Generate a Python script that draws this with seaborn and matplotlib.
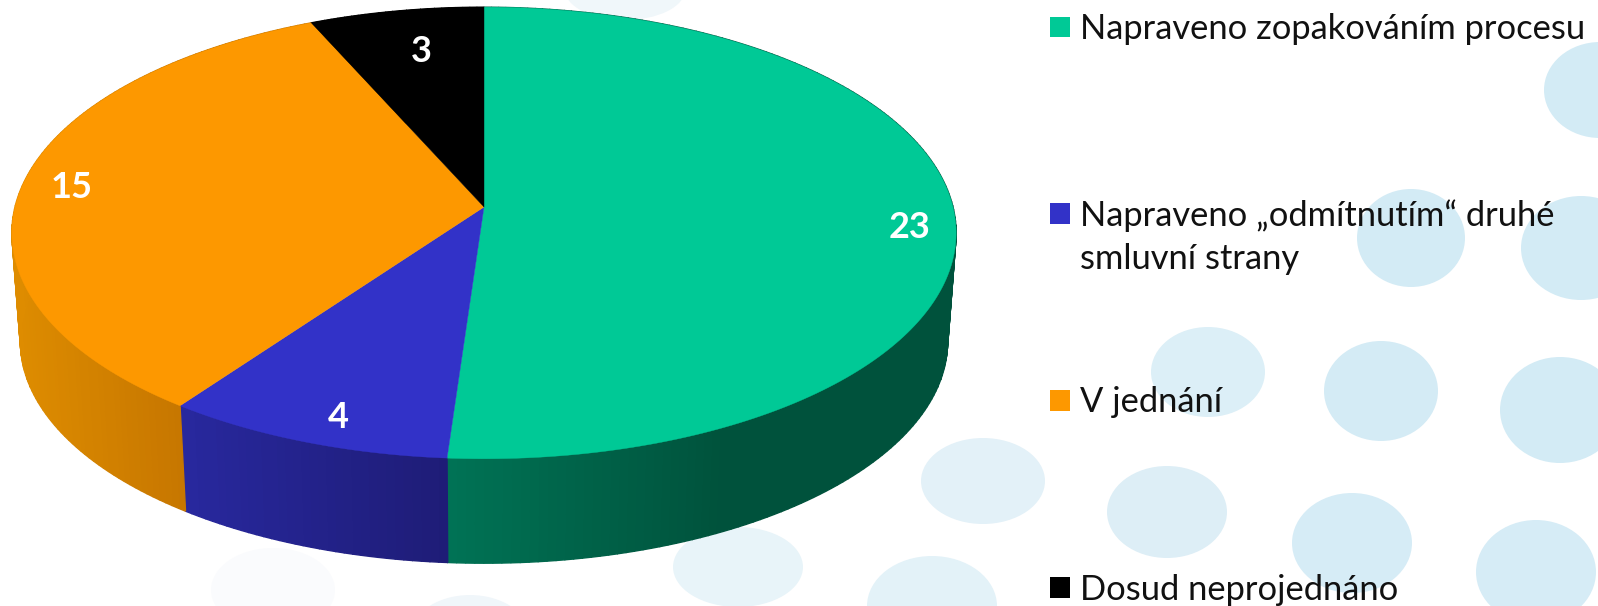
import numpy as np
import matplotlib
matplotlib.use('Agg')
import matplotlib.pyplot as plt
from matplotlib.patches import Ellipse, Rectangle
import seaborn as sns

# hodnoty z grafu
labels = ['Napraveno zopakováním procesu', 'Napraveno „odmítnutím“ druhé\nsmluvní strany', 'V jednání', 'Dosud neprojednáno']
values = [23, 4, 15, 3]
top_colors = ['#00C996', '#3232C8', '#FD9800', '#000000']
side_left = ['#007355', '#28289E', '#DE8C00', '#000000']
side_right = ['#00523C', '#1E1C76', '#C67600', '#000000']
side_x = [(447, 720), (178, 447), (12, 183), (350, 484)]

# popisky v kolaci
value_x = [910, 338, 72, 421]
value_y = [228, 417, 187, 51]

# legenda
legend_y = [26.5, 213, 400, 587]
text_y = [28, 214, 401, 589]

# tecky v pozadi
dot_x = [1600, 1411, 1581, 1208, 1381, 1560, 983, 1167, 1352, 1536, 738, 932, 273, 470, 625]
dot_y = [90, 238, 248, 372, 391, 410, 481, 512, 543, 572, 567, 606, 590, 640, -10]
dot_w = [112, 108, 120, 114, 114, 120, 124, 120, 120, 120, 130, 130, 124, 124, 120]
dot_h = [96, 98, 104, 90, 100, 106, 86, 92, 100, 104, 80, 100, 84, 90, 60]
dot_c = ['#D3EBF5', '#D3EBF5', '#D3EBF5', '#DCEFF7', '#D4EBF5', '#D3EBF5', '#E3F1F8', '#DDEEF6', '#D6ECF6', '#D6ECF6',
         '#E8F4F9', '#E3F2F8', '#FAFBFD', '#F0F6FA', '#F0F7FA']

# geometrie kolace (perspektiva)
cx, apex_y, radius, ky, tilt = 484, 207, 469, 0.115, 222.8
side_drop, side_scale = 109, 0.982


def project(theta, drop=0, scale=1.0):
    d = 1 + ky * np.cos(theta)
    x = cx + scale * radius * np.sin(theta) / d
    y = apex_y + drop - scale * tilt * np.cos(theta) / d
    return x, y


sns.set_theme(style='white')
plt.rcParams['font.family'] = ['Lato', 'DejaVu Sans']

fig = plt.figure(figsize=(15.98, 6.06), dpi=100)
ax = fig.add_axes([0, 0, 1, 1])
ax.set_xlim(0, 1598)
ax.set_ylim(606, 0)
ax.axis('off')

for x, y, w, h, c in zip(dot_x, dot_y, dot_w, dot_h, dot_c):
    ax.add_patch(Ellipse((x, y), w, h, color=c, lw=0, zorder=1))

# hranice vysecu
edges = np.cumsum([0] + values) / sum(values) * 2 * np.pi

# bocni stena po tenkych prouzcich
for i in range(len(values)):
    pal = sns.blend_palette([side_left[i], side_right[i]], 64)
    angles = np.linspace(edges[i], edges[i + 1], int(values[i] * 8) + 2)
    for a, b in zip(angles[:-1], angles[1:]):
        xa, ya = project(a)
        xb, yb = project(b)
        xa2, ya2 = project(a, side_drop, side_scale)
        xb2, yb2 = project(b, side_drop, side_scale)
        t = np.clip(((xa + xb) / 2 - side_x[i][0]) / (side_x[i][1] - side_x[i][0]), 0, 1)
        col = pal[int(t * 63)]
        ax.fill([xa, xb, xb2, xa2], [ya, yb, yb2, ya2], color=col, lw=1.0, zorder=2)

# horni plocha
for i in range(len(values)):
    angles = np.linspace(edges[i], edges[i + 1], 200)
    px, py = project(angles)
    ax.fill(np.r_[cx, px], np.r_[apex_y, py], color=top_colors[i], lw=0.3, zorder=3)

for x, y, v in zip(value_x, value_y, values):
    ax.text(x, y, str(v), color='white', fontsize=26, fontweight='bold', ha='center', va='center', zorder=4)

for y, c in zip(legend_y, top_colors):
    ax.add_patch(Rectangle((1049.5, y - 10), 20.5, 20.5, color=c, lw=0, zorder=4))

for ty, lab in zip(text_y, labels):
    ax.text(1080, ty - 15, lab, color='#111111', fontsize=24.8, ha='left', va='top', linespacing=1.44, zorder=4)

fig.savefig('out.png', dpi=100)
